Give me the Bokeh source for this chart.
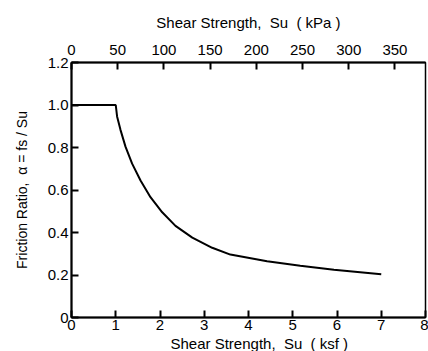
from bokeh.plotting import figure
from bokeh.models import Range1d, LinearAxis, FixedTicker, Title
from bokeh.embed import file_html
from bokeh.resources import INLINE

# Data
su_ksf = [0.0, 1.0, 1.03, 1.107, 1.22, 1.37, 1.56, 1.785, 2.05, 2.35, 2.73, 3.18, 3.59, 4.42, 5.17, 5.93, 7.0]
alpha = [1.0, 1.0, 0.946, 0.883, 0.804, 0.724, 0.645, 0.566, 0.495, 0.431, 0.376, 0.328, 0.296, 0.265, 0.244, 0.225, 0.203]

x_ticks = [0, 1, 2, 3, 4, 5, 6, 7, 8]
y_ticks = [0, 0.2, 0.4, 0.6, 0.8, 1.0, 1.2]
y_tick_labels = ["0", "0.2", "0.4", "0.6", "0.8", "1.0", "1.2"]
kpa_ticks = [0, 50, 100, 150, 200, 250, 300, 350]
KPA_PER_KSF = 47.88

FONT = "Liberation Sans"
NB = "\u00a0"
bottom_title = "Shear Strength," + NB * 2 + "Su" + NB * 2 + "( ksf )"
top_title = "Shear Strength," + NB * 2 + "Su" + NB * 2 + "( kPa )"
left_title = "Friction Ratio," + NB * 2 + "\u03b1 = fs / Su"

p = figure(width=428, height=351, output_backend="svg", toolbar_location=None,
           x_range=Range1d(0, 8), y_range=Range1d(0, 1.2),
           min_border_left=71, min_border_right=3, min_border_top=62, min_border_bottom=0)
p.extra_x_ranges = {"kpa": Range1d(0, 8 * KPA_PER_KSF)}

bottom = p.below[0]
left = p.left[0]
left.axis_label = left_title
bottom.ticker = FixedTicker(ticks=x_ticks)
left.ticker = FixedTicker(ticks=y_ticks)
left.major_label_overrides = {t: l for t, l in zip(y_ticks, y_tick_labels)}

top = LinearAxis(x_range_name="kpa", axis_label=top_title,
                 ticker=FixedTicker(ticks=kpa_ticks))
p.add_layout(top, "above")

p.xgrid.visible = False
p.ygrid.visible = False
p.outline_line_color = "black"
p.outline_line_width = 1.5

for ax in (bottom, left, top):
    ax.major_tick_in = 7
    ax.major_tick_out = 0
    ax.minor_tick_in = 0
    ax.minor_tick_out = 0
    ax.axis_line_width = 2
    ax.major_tick_line_width = 2
    ax.axis_line_color = "black"
    ax.major_tick_line_color = "black"
    ax.major_label_text_font = FONT
    ax.major_label_text_font_size = "15px"
    ax.major_label_text_color = "black"
    ax.axis_label_text_font = FONT
    ax.axis_label_text_font_size = "15px"
    ax.axis_label_text_font_style = "normal"
    ax.axis_label_text_color = "black"

bottom.major_label_standoff = 2
left.major_label_standoff = 3
left.axis_label_standoff = 15
left.axis_label_text_font_size = "14px"
top.major_label_standoff = 8
top.axis_label_standoff = 11

# bottom axis title as a Title panel just below the tick labels
p.add_layout(Title(text=bottom_title, align="left", offset=99, standoff=0,
                   text_font=FONT, text_font_size="15px", text_font_style="normal",
                   text_color="black"), "below")

p.line(su_ksf, alpha, line_color="black", line_width=2)

open("out.html", "w").write(file_html(p, INLINE))
